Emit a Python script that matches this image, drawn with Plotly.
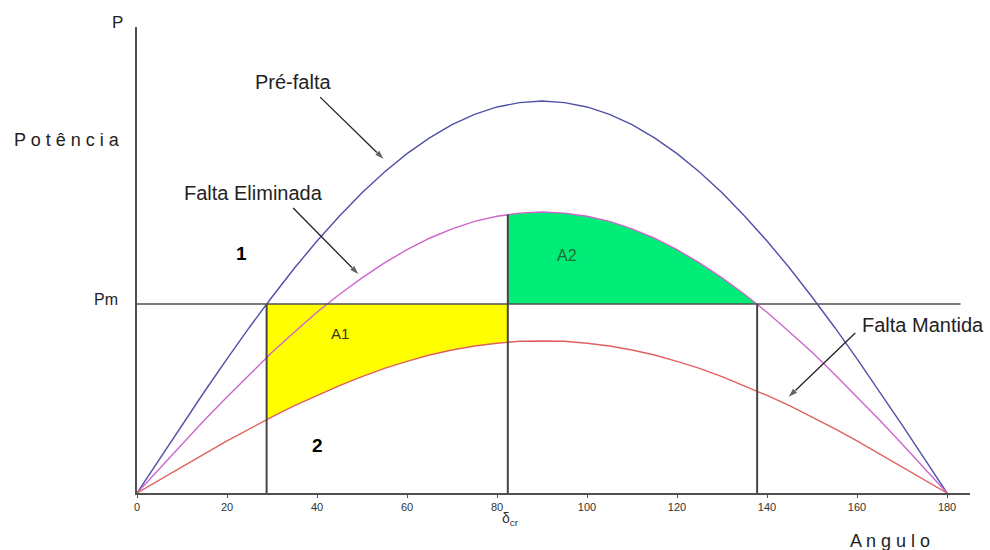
import plotly.graph_objects as go

# Power-angle curves sampled every 5 degrees (relative power, pre-fault peak = 1)
angles = list(range(0, 185, 5))
p_pre_fault = [0.000, 0.087, 0.174, 0.259, 0.342, 0.423, 0.500, 0.574, 0.643, 0.707,
               0.766, 0.819, 0.866, 0.906, 0.940, 0.966, 0.985, 0.996, 1.000,
               0.996, 0.985, 0.966, 0.940, 0.906, 0.866, 0.819, 0.766, 0.707,
               0.643, 0.574, 0.500, 0.423, 0.342, 0.259, 0.174, 0.087, 0.000]
p_cleared = [0.000, 0.062, 0.125, 0.186, 0.245, 0.303, 0.359, 0.411, 0.461, 0.507,
             0.549, 0.587, 0.621, 0.650, 0.674, 0.693, 0.706, 0.714, 0.717,
             0.714, 0.706, 0.693, 0.674, 0.650, 0.621, 0.587, 0.549, 0.507,
             0.461, 0.411, 0.359, 0.303, 0.245, 0.186, 0.125, 0.062, 0.000]
p_sustained = [0.000, 0.034, 0.067, 0.100, 0.133, 0.164, 0.194, 0.223, 0.249, 0.274,
               0.297, 0.318, 0.336, 0.352, 0.365, 0.375, 0.382, 0.387, 0.388,
               0.387, 0.382, 0.375, 0.365, 0.352, 0.336, 0.318, 0.297, 0.274,
               0.249, 0.223, 0.194, 0.164, 0.133, 0.100, 0.067, 0.034, 0.000]

# Mechanical power and the characteristic angles
p_mech = 0.482
delta_0 = 28.8        # initial operating angle
delta_cr = 82.4       # critical clearing angle
delta_max = 137.8     # maximum swing angle
p_sustained_at_d0 = 0.187
p_sustained_at_cr = 0.385
p_cleared_at_cr = 0.711

x_ticks = [0, 20, 40, 60, 80, 100, 120, 140, 160, 180]

FONT = "Liberation Sans, Arial, sans-serif"
fig = go.Figure()

# Area A1: between Pm and the sustained-fault curve, delta_0 .. delta_cr
a1_mid = [(a, p) for a, p in zip(angles, p_sustained) if delta_0 < a < delta_cr]
a1_x = [delta_0, delta_cr, delta_cr] + [a for a, _ in reversed(a1_mid)] + [delta_0]
a1_y = [p_mech, p_mech, p_sustained_at_cr] + [p for _, p in reversed(a1_mid)] + [p_sustained_at_d0]
fig.add_trace(go.Scatter(x=a1_x, y=a1_y, fill="toself", fillcolor="#FFFF00",
                         line=dict(width=0), mode="lines", hoverinfo="skip"))

# Area A2: between the post-fault curve and Pm, delta_cr .. delta_max
a2_mid = [(a, p) for a, p in zip(angles, p_cleared) if delta_cr < a < delta_max]
a2_x = [delta_cr, delta_cr] + [a for a, _ in a2_mid] + [delta_max]
a2_y = [p_mech, p_cleared_at_cr] + [p for _, p in a2_mid] + [p_mech]
fig.add_trace(go.Scatter(x=a2_x, y=a2_y, fill="toself", fillcolor="#00EE78",
                         line=dict(width=0), mode="lines", hoverinfo="skip"))

# Power-angle curves
fig.add_trace(go.Scatter(x=angles, y=p_pre_fault, mode="lines",
                         line=dict(color="#5050A8", width=1.4)))
fig.add_trace(go.Scatter(x=angles, y=p_cleared, mode="lines",
                         line=dict(color="#CC66CC", width=1.4)))
fig.add_trace(go.Scatter(x=angles, y=p_sustained, mode="lines",
                         line=dict(color="#E06060", width=1.4)))

# Pm line and the vertical angle markers
fig.add_trace(go.Scatter(x=[0, 183], y=[p_mech, p_mech], mode="lines",
                         line=dict(color="#505050", width=1.5)))
for xv, ytop in [(delta_0, p_mech), (delta_cr, p_cleared_at_cr), (delta_max, p_mech)]:
    fig.add_trace(go.Scatter(x=[xv, xv], y=[0, ytop], mode="lines",
                             line=dict(color="#454545", width=2)))

def label(x, y, text, size=20, color="#222222", weight="normal", ref="data"):
    refs = dict(xref="paper", yref="paper") if ref == "paper" else dict(xref="x", yref="y")
    fig.add_annotation(x=x, y=y, text=text, showarrow=False, **refs,
                       font=dict(family=FONT, size=size, color=color, weight=weight),
                       xanchor="center", yanchor="middle")

def arrow(x_tail, y_tail, x_head, y_head):
    # pointer line with an arrowhead oriented along the segment
    fig.add_trace(go.Scatter(x=[x_tail, x_head], y=[y_tail, y_head],
                             mode="lines+markers", hoverinfo="skip",
                             line=dict(color="#222222", width=1.3),
                             marker=dict(symbol="arrow", size=[0, 11],
                                         angleref="previous", color="#222222")))

# Axis captions (outside the plotting area, placed in paper coordinates)
label(-0.023, 1.009, "P", size=17, ref="paper")
label(-0.084, 0.757, "P o t ê n c i a", size=18, ref="paper")
label(-0.037, 0.415, "Pm", size=16, ref="paper")
label(0.904, -0.103, "A n g u l o", size=18, ref="paper")
label(0.448, -0.055, "δ<sub>cr</sub>", size=14, color="#333333", ref="paper")

# Curve and area labels
label(34.7, 1.048, "Pré-falta", size=20)
label(25.8, 0.765, "Falta Eliminada", size=20)
label(23.3, 0.612, "1", size=19, color="#000000", weight="bold")
label(40.0, 0.120, "2", size=19, color="#000000", weight="bold")
label(45.1, 0.406, "A1", size=15, color="#3A3A10")
label(95.6, 0.607, "A2", size=16, color="#1F6A35")
label(174.7, 0.429, "Falta Mantida", size=20)

arrow(40.7, 1.010, 55.0, 0.850)
arrow(34.7, 0.727, 49.4, 0.556)
arrow(159.6, 0.408, 144.6, 0.243)

fig.update_layout(
    width=990, height=550,
    margin=dict(l=137, r=20, t=27, b=57),
    plot_bgcolor="white", paper_bgcolor="white",
    showlegend=False,
    xaxis=dict(range=[0, 185.1], showgrid=False, zeroline=False,
               showline=True, linecolor="#505050", linewidth=1.5,
               tickmode="array", tickvals=x_ticks,
               ticktext=[str(t) for t in x_ticks],
               ticks="outside", ticklen=3, tickcolor="#505050",
               tickfont=dict(family=FONT, size=11, color="#333333")),
    yaxis=dict(range=[0, 1.189], showgrid=False, zeroline=False,
               showline=True, linecolor="#505050", linewidth=1.5,
               showticklabels=False, ticks=""),
)

fig.write_html("out.html")
